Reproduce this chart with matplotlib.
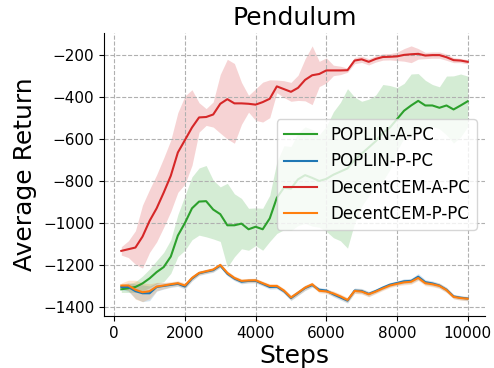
import numpy as np
import matplotlib
matplotlib.use("Agg")
import matplotlib.pyplot as plt

steps = np.arange(200, 10001, 200)

poplin_a_mean = [-1316, -1311, -1305, -1288, -1264, -1234, -1210, -1160, -1060, -1000,
                 -930, -898, -896, -936, -958, -1011, -1011, -1003, -1030, -1018,
                 -1030, -978, -880, -832, -836, -792, -772, -785, -800, -790,
                 -770, -755, -740, -700, -670, -640, -610, -570, -545, -505,
                 -465, -440, -418, -440, -440, -451, -440, -459, -440, -420]
poplin_a_std = [15, 20, 25, 35, 45, 55, 70, 80, 100, 130,
                150, 160, 170, 140, 130, 200, 150, 120, 100, 90,
                100, 110, 170, 200, 200, 220, 230, 230, 220, 250,
                300, 330, 380, 300, 250, 230, 220, 230, 200, 150,
                130, 150, 130, 120, 100, 100, 140, 160, 150, 120]

poplin_p_mean = [-1305, -1305, -1325, -1335, -1335, -1305, -1300, -1295, -1290, -1303,
                 -1265, -1240, -1232, -1225, -1203, -1242, -1265, -1280, -1276, -1276,
                 -1290, -1305, -1304, -1325, -1358, -1334, -1310, -1296, -1318, -1322,
                 -1340, -1355, -1370, -1322, -1324, -1338, -1324, -1308, -1294, -1286,
                 -1278, -1276, -1256, -1282, -1288, -1298, -1318, -1350, -1356, -1360]
poplin_p_std = [12, 20, 35, 40, 35, 20, 15, 12, 12, 12,
                12, 10, 10, 10, 10, 10, 10, 10, 10, 10,
                10, 10, 10, 10, 12, 12, 12, 10, 10, 10,
                12, 12, 12, 12, 12, 12, 10, 10, 10, 10,
                12, 12, 15, 12, 12, 12, 12, 10, 10, 10]

decent_a_mean = [-1133, -1125, -1117, -1065, -990, -930, -855, -775, -664, -605,
                 -545, -497, -495, -483, -432, -410, -430, -430, -432, -436,
                 -424, -408, -349, -362, -375, -356, -318, -296, -290, -273,
                 -273, -273, -272, -226, -220, -232, -218, -209, -208, -206,
                 -199, -196, -194, -202, -200, -200, -210, -224, -226, -232]
decent_a_std = [20, 40, 80, 150, 150, 160, 165, 170, 190, 210,
                180, 70, 40, 60, 140, 190, 190, 100, 40, 75,
                95, 90, 30, 40, 45, 60, 100, 140, 60, 60,
                25, 20, 10, 15, 15, 15, 15, 15, 15, 20,
                30, 40, 25, 15, 15, 15, 15, 12, 10, 10]

decent_p_mean = [-1298, -1298, -1318, -1330, -1325, -1303, -1298, -1292, -1287, -1298,
                 -1262, -1238, -1230, -1222, -1200, -1238, -1262, -1276, -1274, -1273,
                 -1287, -1300, -1300, -1322, -1355, -1332, -1308, -1292, -1323, -1326,
                 -1336, -1350, -1367, -1324, -1327, -1340, -1327, -1312, -1298, -1290,
                 -1283, -1280, -1262, -1287, -1292, -1300, -1320, -1352, -1358, -1361]
decent_p_std = [12, 25, 45, 45, 35, 20, 15, 12, 12, 12,
                12, 10, 10, 10, 10, 10, 10, 10, 10, 10,
                10, 10, 10, 10, 12, 12, 12, 10, 10, 10,
                12, 12, 12, 12, 12, 12, 10, 10, 10, 10,
                12, 12, 12, 12, 12, 12, 12, 10, 10, 10]

labels = ["POPLIN-A-PC", "POPLIN-P-PC", "DecentCEM-A-PC", "DecentCEM-P-PC"]
colors = ["#2ca02c", "#1f77b4", "#d62728", "#ff7f0e"]
means = [poplin_a_mean, poplin_p_mean, decent_a_mean, decent_p_mean]
stds = [poplin_a_std, poplin_p_std, decent_a_std, decent_p_std]

fig = plt.figure(figsize=(4.94, 3.68), dpi=100)
ax = fig.add_axes([0.2105, 0.1413, 0.7713, 0.769])

for lab, c, m, s in zip(labels, colors, means, stds):
    m = np.array(m, dtype=float)
    s = np.array(s, dtype=float)
    ax.plot(steps, m, color=c, lw=1.5, label=lab)
    ax.fill_between(steps, m - s, m + s, color=c, alpha=0.2, lw=0)

ax.set_title("Pendulum", fontsize=18)
ax.set_xlabel("Steps", fontsize=18, labelpad=2)
ax.set_ylabel("Average Return", fontsize=18)
ax.set_xticks([0, 2000, 4000, 6000, 8000, 10000])
ax.set_yticks([-1400, -1200, -1000, -800, -600, -400, -200])
ax.tick_params(labelsize=11)
ax.grid(True, linestyle="--", color="#b0b0b0", lw=0.8)
ax.spines["top"].set_visible(False)
ax.spines["right"].set_visible(False)
ax.legend(loc="center right", fontsize=12)

fig.savefig("out.png", dpi=100)
